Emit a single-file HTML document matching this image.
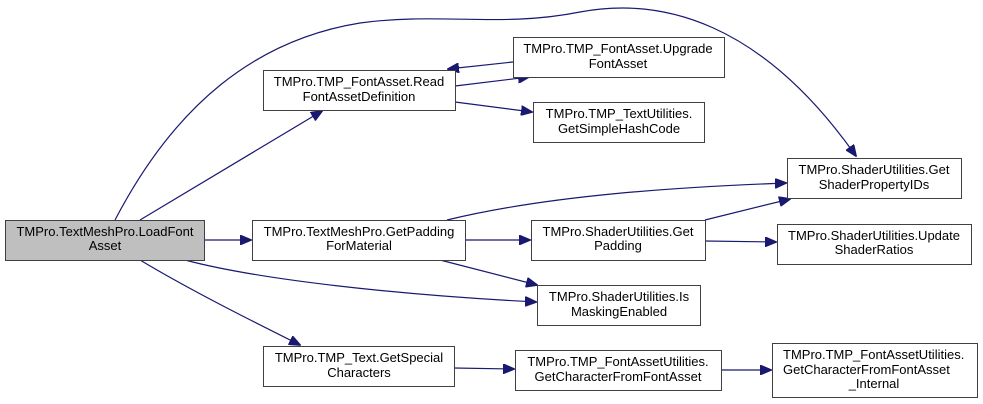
<!DOCTYPE html>
<html><head><meta charset="utf-8"><style>
html,body{margin:0;padding:0;background:#fff;width:983px;height:404px;overflow:hidden}
svg{display:block}
text{font-family:"Liberation Sans",Arial,sans-serif;font-size:13px;fill:#000}
rect{stroke:#404040;stroke-width:1;fill:#fff}
path{stroke:#191970;stroke-width:1.2;fill:none}
</style></head><body>
<svg width="983" height="404" viewBox="0 0 983 404">
<defs><marker id="a" markerWidth="12" markerHeight="10" refX="11" refY="5" orient="auto" markerUnits="userSpaceOnUse"><path d="M0,0 L12,5 L0,10 z" style="fill:#191970;stroke:#191970;stroke-width:1"/></marker></defs>
<path d="M115,220 C175,105 255,40 360,23 C440,12 500,28 580,12 C660,-3 760,20 856,156" marker-end="url(#a)"/>
<path d="M140,220 L322,111" marker-end="url(#a)"/>
<path d="M204,240 L251,240" marker-end="url(#a)"/>
<path d="M185,260 C260,280 400,295 536,302" marker-end="url(#a)"/>
<path d="M140,260 C190,290 250,320 300,345" marker-end="url(#a)"/>
<path d="M513,62 L448,69" marker-end="url(#a)"/>
<path d="M455,86 L529,77" marker-end="url(#a)"/>
<path d="M455,102 L532,112" marker-end="url(#a)"/>
<path d="M447,220 C550,195 680,187 786,183" marker-end="url(#a)"/>
<path d="M465,240 L530,240" marker-end="url(#a)"/>
<path d="M440,260 L537,285" marker-end="url(#a)"/>
<path d="M705,220 L790,199" marker-end="url(#a)"/>
<path d="M705,241 L776,242" marker-end="url(#a)"/>
<path d="M454,368 L514,369" marker-end="url(#a)"/>
<path d="M721,370 L771,370" marker-end="url(#a)"/>

<rect x="5.5" y="220.5" width="199" height="40" style="fill:#bfbfbf"/>
<text x="105" y="236" text-anchor="middle">TMPro.TextMeshPro.LoadFont</text><text x="105" y="250" text-anchor="middle">Asset</text>

<rect x="263.5" y="70.5" width="192" height="40"/>
<text x="359" y="86" text-anchor="middle">TMPro.TMP_FontAsset.Read</text><text x="359" y="101" text-anchor="middle">FontAssetDefinition</text>

<rect x="252.5" y="220.5" width="213" height="40"/>
<text x="359" y="236" text-anchor="middle">TMPro.TextMeshPro.GetPadding</text><text x="359" y="250" text-anchor="middle">ForMaterial</text>

<rect x="263.5" y="346.5" width="191" height="40"/>
<text x="359" y="362" text-anchor="middle">TMPro.TMP_Text.GetSpecial</text><text x="359" y="377" text-anchor="middle">Characters</text>

<rect x="513.5" y="37.5" width="211" height="40"/>
<text x="618" y="53" text-anchor="middle">TMPro.TMP_FontAsset.Upgrade</text><text x="618" y="68" text-anchor="middle">FontAsset</text>

<rect x="533.5" y="102.5" width="171" height="40"/>
<text x="619" y="118" text-anchor="middle">TMPro.TMP_TextUtilities.</text><text x="619" y="133" text-anchor="middle">GetSimpleHashCode</text>

<rect x="787.5" y="158.5" width="174" height="40"/>
<text x="874" y="174" text-anchor="middle">TMPro.ShaderUtilities.Get</text><text x="874" y="189" text-anchor="middle">ShaderPropertyIDs</text>

<rect x="531.5" y="220.5" width="174" height="40"/>
<text x="618" y="236" text-anchor="middle">TMPro.ShaderUtilities.Get</text><text x="618" y="250" text-anchor="middle">Padding</text>

<rect x="777.5" y="224.5" width="194" height="40"/>
<text x="874" y="240" text-anchor="middle">TMPro.ShaderUtilities.Update</text><text x="874" y="254" text-anchor="middle">ShaderRatios</text>

<rect x="537.5" y="285.5" width="163" height="40"/>
<text x="619" y="301" text-anchor="middle">TMPro.ShaderUtilities.Is</text><text x="619" y="316" text-anchor="middle">MaskingEnabled</text>

<rect x="515.5" y="350.5" width="206" height="40"/>
<text x="618" y="366" text-anchor="middle">TMPro.TMP_FontAssetUtilities.</text><text x="618" y="381" text-anchor="middle">GetCharacterFromFontAsset</text>

<rect x="772.5" y="343.5" width="205" height="54"/>
<text x="783" y="359">TMPro.TMP_FontAssetUtilities.</text><text x="783" y="374">GetCharacterFromFontAsset</text><text x="874" y="388" text-anchor="middle">_Internal</text>
</svg>
</body></html>
